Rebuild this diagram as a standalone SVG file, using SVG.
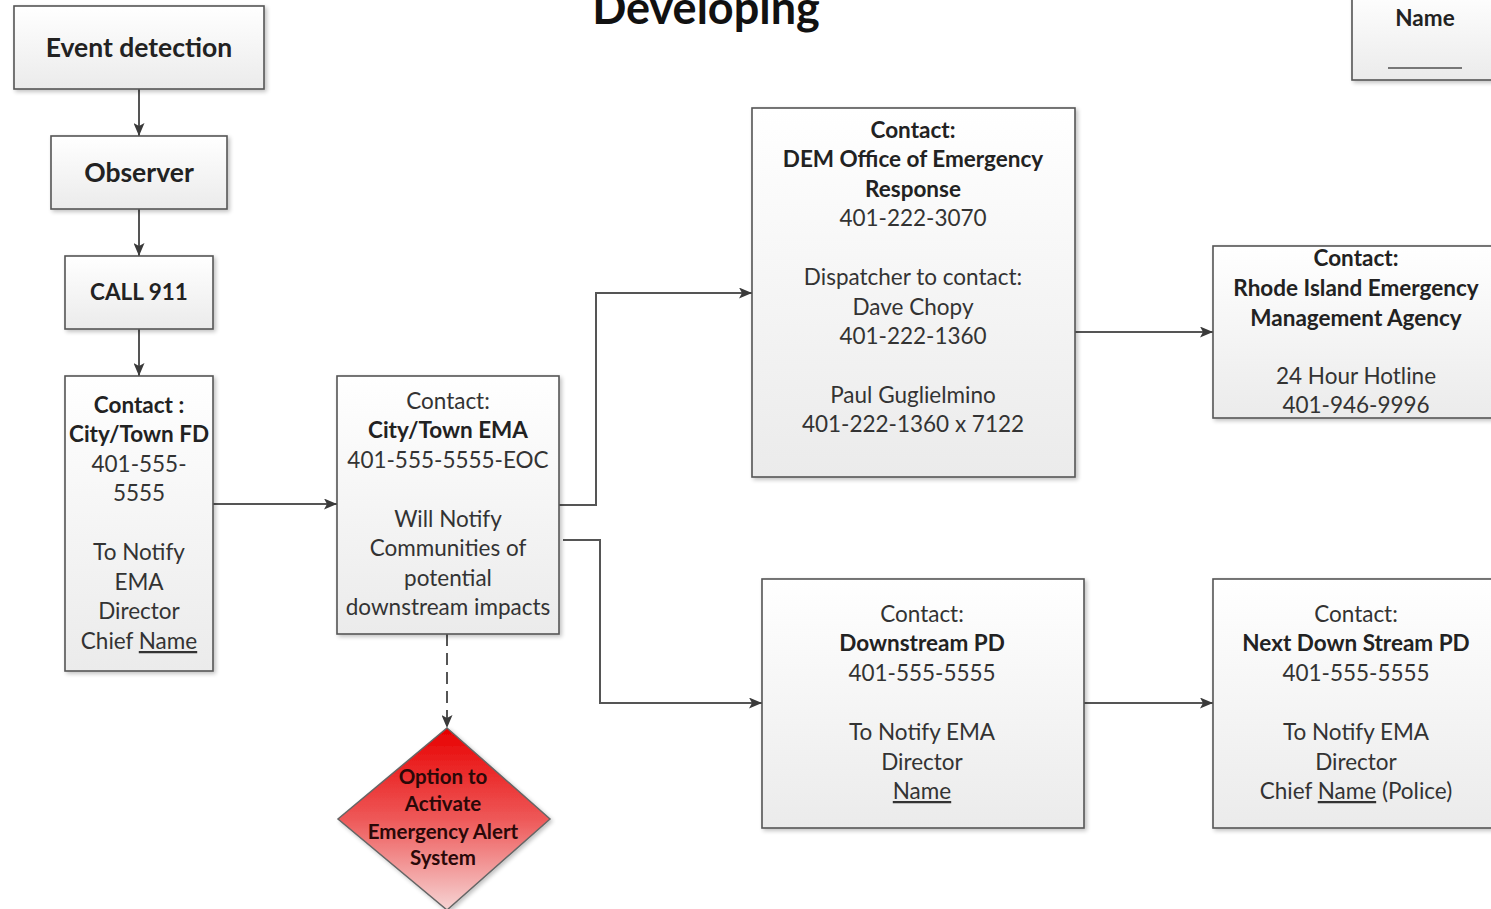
<svg xmlns="http://www.w3.org/2000/svg" width="1491" height="909" viewBox="0 0 1491 909">
<defs>
<linearGradient id="gbox" x1="0" y1="0" x2="0" y2="1">
<stop offset="0" stop-color="#ffffff"/>
<stop offset="1" stop-color="#ebebeb"/>
</linearGradient>
<linearGradient id="gred" x1="0" y1="0" x2="0" y2="1">
<stop offset="0" stop-color="#e80000"/>
<stop offset="0.5" stop-color="#ee5858"/>
<stop offset="1" stop-color="#f6d4d4"/>
</linearGradient>
<filter id="sh" x="-10%" y="-10%" width="130%" height="130%">
<feGaussianBlur in="SourceAlpha" stdDeviation="2"/>
<feOffset dx="2" dy="2" result="o"/>
<feComponentTransfer><feFuncA type="linear" slope="0.25"/></feComponentTransfer>
<feMerge><feMergeNode/><feMergeNode in="SourceGraphic"/></feMerge>
</filter>
<marker id="arr" viewBox="0 0 13 11" refX="13" refY="5.5" markerWidth="13" markerHeight="11" markerUnits="userSpaceOnUse" orient="auto">
<path d="M0,0 L13,5.5 L0,11 L3,5.5 Z" fill="#3a3a3a"/>
</marker>
</defs>
<style>
.box{fill:url(#gbox);stroke:#555;stroke-width:1.6;filter:url(#sh)}
.t{font-family:Lato,"Open Sans",sans-serif;font-size:22.5px;fill:#333;text-anchor:middle}
.b{font-weight:bold;fill:#222}
.big{font-size:26.5px}
.c{fill:none;stroke:#555;stroke-width:2}
.u{text-decoration:underline}
</style>
<rect width="1491" height="909" fill="#ffffff"/>

<g id="title">
<text x="706" y="24" class="t b" style="font-size:45px;fill:#111">Developing</text>
</g>

<g id="corner">
<rect x="1352" y="-10" width="150" height="90" class="box"/>
<text x="1425" y="26" class="t b">Name</text>
<line x1="1388" y1="68" x2="1462" y2="68" stroke="#777" stroke-width="2"/>
</g>

<g id="connectors">
<path class="c" d="M139,89 V136" marker-end="url(#arr)"/>
<path class="c" d="M139,209 V256" marker-end="url(#arr)"/>
<path class="c" d="M139,329 V376" marker-end="url(#arr)"/>
<path class="c" d="M213,504 H337" marker-end="url(#arr)"/>
<path class="c" d="M559,505 H596 V293 H752" marker-end="url(#arr)"/>
<path class="c" d="M563,540 H600 V703 H762" marker-end="url(#arr)"/>
<path class="c" d="M1075,332 H1213" marker-end="url(#arr)"/>
<path class="c" d="M1084,703 H1213" marker-end="url(#arr)"/>
<path class="c" d="M447,634 V728" stroke-dasharray="12,7" marker-end="url(#arr)"/>
</g>

<g id="event">
<rect x="14" y="6" width="250" height="83" class="box"/>
<text x="139" y="57" class="t b big">Event detection</text>
</g>

<g id="observer">
<rect x="51" y="136" width="176" height="73" class="box"/>
<text x="139" y="182" class="t b big">Observer</text>
</g>

<g id="call911">
<rect x="65" y="256" width="148" height="73" class="box"/>
<text x="139" y="300" class="t b">CALL 911</text>
</g>

<g id="fd">
<rect x="65" y="376" width="148" height="295" class="box"/>
<text class="t"><tspan x="139" y="413" class="b">Contact :</tspan><tspan x="139" y="442" class="b">City/Town FD</tspan><tspan x="139" y="472">401-555-</tspan><tspan x="139" y="501">5555</tspan><tspan x="139" y="560">To Notify</tspan><tspan x="139" y="590">EMA</tspan><tspan x="139" y="619">Director</tspan><tspan x="139" y="649">Chief <tspan class="u">Name</tspan></tspan></text>
</g>

<g id="ema">
<rect x="337" y="376" width="222" height="258" class="box"/>
<text class="t"><tspan x="448" y="409">Contact:</tspan><tspan x="448" y="438" class="b">City/Town EMA</tspan><tspan x="448" y="468">401-555-5555-EOC</tspan><tspan x="448" y="527">Will Notify</tspan><tspan x="448" y="556">Communities of</tspan><tspan x="448" y="586">potential</tspan><tspan x="448" y="615">downstream impacts</tspan></text>
</g>

<g id="eas">
<polygon points="447,728 550,819 447,910 338,819" fill="url(#gred)" stroke="#666" stroke-width="1.5" filter="url(#sh)"/>
<text class="t b" style="font-size:20.5px;fill:#2a0808"><tspan x="443" y="784">Option to</tspan><tspan x="443" y="811">Activate</tspan><tspan x="443" y="839">Emergency Alert</tspan><tspan x="443" y="865">System</tspan></text>
</g>

<g id="dem">
<rect x="752" y="108" width="323" height="369" class="box"/>
<text class="t"><tspan x="913" y="138" class="b">Contact:</tspan><tspan x="913" y="167" class="b">DEM Office of Emergency</tspan><tspan x="913" y="197" class="b">Response</tspan><tspan x="913" y="226">401-222-3070</tspan><tspan x="913" y="285">Dispatcher to contact:</tspan><tspan x="913" y="315">Dave Chopy</tspan><tspan x="913" y="344">401-222-1360</tspan><tspan x="913" y="403">Paul Guglielmino</tspan><tspan x="913" y="432">401-222-1360 x 7122</tspan></text>
</g>

<g id="riema">
<rect x="1213" y="246" width="300" height="172" class="box"/>
<text class="t"><tspan x="1356" y="266" class="b">Contact:</tspan><tspan x="1356" y="296" class="b">Rhode Island Emergency</tspan><tspan x="1356" y="326" class="b">Management Agency</tspan><tspan x="1356" y="384">24 Hour Hotline</tspan><tspan x="1356" y="413">401-946-9996</tspan></text>
</g>

<g id="downpd">
<rect x="762" y="579" width="322" height="249" class="box"/>
<text class="t"><tspan x="922" y="622">Contact:</tspan><tspan x="922" y="651" class="b">Downstream PD</tspan><tspan x="922" y="681">401-555-5555</tspan><tspan x="922" y="740">To Notify EMA</tspan><tspan x="922" y="770">Director</tspan><tspan x="922" y="799" class="u">Name</tspan></text>
</g>

<g id="nextpd">
<rect x="1213" y="579" width="300" height="249" class="box"/>
<text class="t"><tspan x="1356" y="622">Contact:</tspan><tspan x="1356" y="651" class="b">Next Down Stream PD</tspan><tspan x="1356" y="681">401-555-5555</tspan><tspan x="1356" y="740">To Notify EMA</tspan><tspan x="1356" y="770">Director</tspan><tspan x="1356" y="799">Chief <tspan class="u">Name</tspan> (Police)</tspan></text>
</g>
</svg>
